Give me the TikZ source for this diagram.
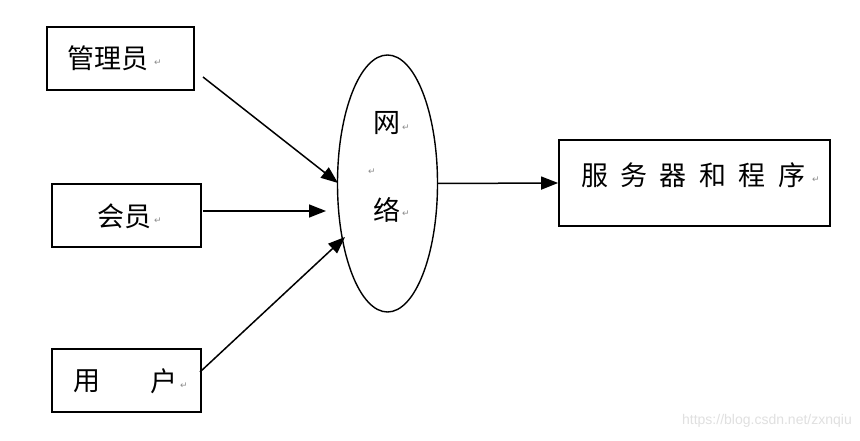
\documentclass[tikz,border=0pt]{standalone}
\usepackage{fontspec}
\newfontfamily\cjk{Noto Sans CJK SC}
\newfontfamily\dv{DejaVu Sans}
\newfontfamily\wmfont{Liberation Sans}
\usetikzlibrary{arrows.meta,shapes.geometric}
\newcommand{\rmk}{{\dv\color{black!45}\fontsize{9}{9}\selectfont ↵}}
\begin{document}
\begin{tikzpicture}[x=1pt,y=-1pt,
  box/.style={draw,line width=1.7pt,inner sep=0pt},
  txt/.style={font=\cjk\fontsize{27}{27}\selectfont,inner sep=0pt,anchor=west},
  retmark/.style={inner sep=0pt,anchor=center},
  arr/.style={line width=1.5pt,-{Triangle[length=17pt,width=13pt]}}]
\fill[white] (0,0) rectangle (860,441);
\useasboundingbox (0,0) rectangle (860,441);
% boxes
\node[box,minimum width=147pt,minimum height=63pt] (admin) at (120.5,58.5) {};
\node[box,minimum width=149pt,minimum height=63pt] (member) at (126.5,215.5) {};
\node[box,minimum width=149pt,minimum height=63pt] (user) at (126.5,380.5) {};
\node[draw,ellipse,line width=1.4pt,minimum width=100pt,minimum height=257pt,inner sep=0pt] (net) at (387.5,183.5) {};
\node[box,minimum width=271pt,minimum height=86pt] (server) at (694.5,183) {};
% texts
\node[txt] (tadmin) at (67,58) {管理员};
\node[retmark] (radmin) at (158,63) {\rmk};
\node[txt] (tmember) at (97,216) {会员};
\node[retmark] (rmember) at (158,221) {\rmk};
\node[txt] (tuser1) at (73,381) {用};
\node[txt] (tuser2) at (150,381) {户};
\node[retmark] (ruser) at (184,386) {\rmk};
\node[txt] (tnet1) at (373,123) {网};
\node[retmark] (rnet1) at (406,128) {\rmk};
\node[retmark] (rnet0) at (372,172) {\rmk};
\node[txt] (tnet2) at (373,210) {络};
\node[retmark] (rnet2) at (406,214) {\rmk};
\node[txt] (tserver) at (581,175) {服\hspace{12.4pt}务\hspace{12.4pt}器\hspace{12.4pt}和\hspace{12.4pt}程\hspace{12.4pt}序};
\node[retmark] (rserver) at (816,180) {\rmk};
% connectors
\coordinate (a1s) at (203,77);  \coordinate (a1e) at (338,183);
\coordinate (a2s) at (203,211); \coordinate (a2e) at (326,211);
\coordinate (a3s) at (200,372); \coordinate (a3e) at (345,237);
\draw[arr] (a1s) -- (a1e);
\draw[arr] (a2s) -- (a2e);
\draw[arr] (a3s) -- (a3e);
\draw[arr] (net.east) -- (server.west);
% watermark
\node[anchor=east,inner sep=0pt,font=\wmfont\fontsize{14}{14}\selectfont,text=black!12] (wm) at (852,421) {https://blog.csdn.net/zxnqiu};
\end{tikzpicture}
\end{document}
